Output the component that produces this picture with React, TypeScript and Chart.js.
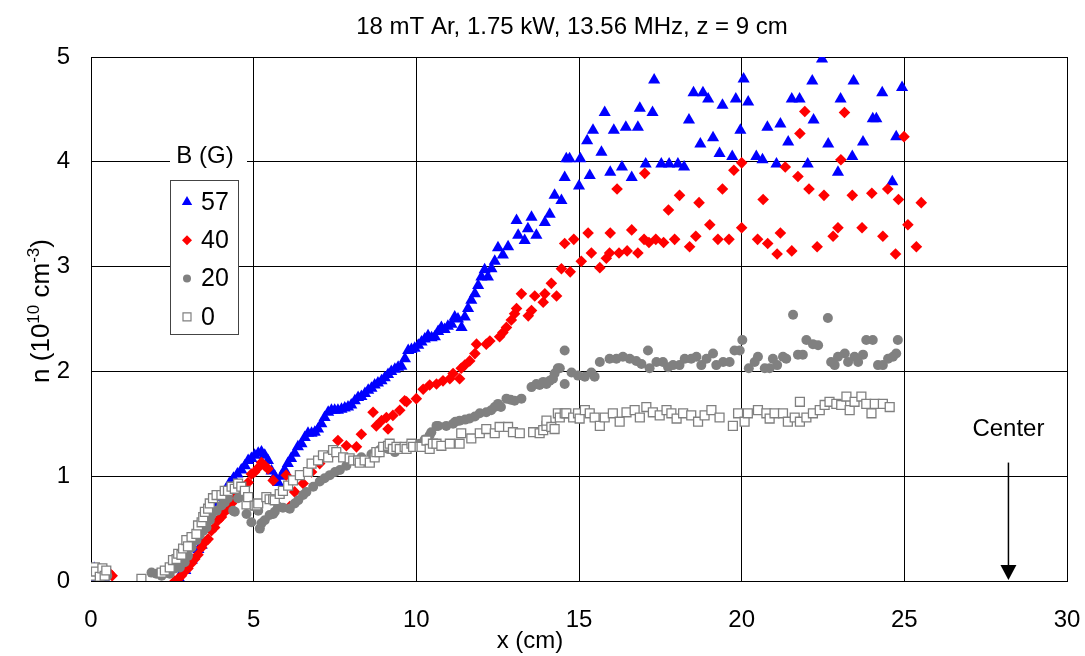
import React, { useEffect, useRef } from "react";
import { Chart, registerables } from "chart.js";

Chart.register(...registerables);

const FONT = '"Liberation Sans", Arial, Helvetica, sans-serif';
const TITLE = "18 mT Ar, 1.75 kW, 13.56 MHz, z = 9 cm";
const X_TICKS = [0, 5, 10, 15, 20, 25, 30];
const Y_TICKS = [0, 1, 2, 3, 4, 5];
const LEGEND_TITLE = "B (G)";
const SERIES_LABELS = ["57", "40", "20", "0"];
const CENTER_X = 28.2;

// B = 57 G (blue triangles): [x (cm), n (1e10 cm^-3)]
const b57: number[][] = [
  [0.06, 0.0], [0.1, 0.12], [0.15, 0.0], [0.3, 0.0], [0.45, 0.0],
  [2.7, 0.03], [2.9, 0.1], [3.1, 0.2], [3.3, 0.3], [3.4, 0.34], [3.55, 0.5], [3.7, 0.64], [3.85, 0.72],
  [4.0, 0.8], [4.15, 0.87], [4.25, 0.93], [4.38, 0.98], [4.5, 1.02], [4.62, 1.06], [4.73, 1.1], [4.83, 1.15],
  [4.93, 1.17], [5.03, 1.2], [5.14, 1.22], [5.24, 1.23], [5.34, 1.2], [5.44, 1.15], [5.55, 1.05], [5.65, 1.0],
  [5.75, 0.94], [5.85, 1.0], [5.95, 1.06], [6.05, 1.12], [6.15, 1.17], [6.26, 1.22], [6.36, 1.28], [6.47, 1.31],
  [6.57, 1.37], [6.67, 1.41], [6.78, 1.41], [6.88, 1.42], [6.98, 1.45], [7.08, 1.5], [7.18, 1.56], [7.29, 1.61],
  [7.39, 1.63], [7.49, 1.63], [7.59, 1.63], [7.7, 1.64], [7.8, 1.65], [7.9, 1.66], [8.0, 1.68], [8.11, 1.72],
  [8.21, 1.75], [8.31, 1.76], [8.42, 1.79], [8.52, 1.82], [8.62, 1.84], [8.72, 1.87], [8.82, 1.89], [8.93, 1.91],
  [9.03, 1.94], [9.13, 1.97], [9.23, 2.0], [9.34, 2.02], [9.44, 2.04], [9.54, 2.05], [9.65, 2.12], [9.75, 2.2],
  [9.85, 2.21], [9.95, 2.22], [10.06, 2.25], [10.16, 2.28], [10.26, 2.31], [10.36, 2.34], [10.47, 2.32],
  [10.57, 2.33], [10.67, 2.38], [10.77, 2.42], [10.87, 2.4], [10.97, 2.43], [11.08, 2.45], [11.18, 2.52],
  [11.28, 2.5], [11.39, 2.42], [11.49, 2.52], [11.59, 2.6], [11.69, 2.68], [11.8, 2.74], [11.9, 2.82], [12.0, 2.9],
  [12.1, 2.97], [12.2, 2.9], [12.31, 2.98], [12.41, 3.05], [12.51, 3.18], [12.66, 3.11], [12.82, 3.19],
  [13.08, 3.44], [13.13, 3.3], [13.33, 3.25], [13.43, 3.36], [13.54, 3.47], [13.69, 3.3], [13.95, 3.42],
  [14.1, 3.5], [14.25, 3.68], [14.46, 3.63], [14.56, 3.85], [14.61, 4.03], [14.71, 4.03], [15.0, 3.77],
  [15.04, 4.03], [15.25, 4.2], [15.33, 3.87], [15.43, 4.3], [15.69, 4.09], [15.79, 4.47], [15.96, 3.9],
  [16.07, 4.3], [16.32, 3.95], [16.44, 4.33], [16.62, 3.85], [16.81, 4.33], [16.87, 4.51], [17.05, 3.98],
  [17.26, 4.47], [17.31, 4.78], [17.53, 3.98], [17.77, 3.98], [18.04, 3.98], [18.23, 3.95], [18.38, 4.4],
  [18.52, 4.66], [18.73, 4.17], [18.81, 4.66], [18.97, 4.6], [19.12, 4.23], [19.32, 4.08], [19.41, 4.54],
  [19.71, 4.05], [19.82, 4.6], [19.96, 4.3], [20.06, 4.79], [20.2, 4.57], [20.45, 4.05], [20.64, 4.02],
  [20.79, 4.33], [21.07, 3.98], [21.19, 4.36], [21.43, 4.19], [21.54, 4.6], [21.78, 4.6], [22.03, 3.98],
  [22.17, 4.77], [22.21, 4.4], [22.47, 4.98], [22.66, 4.17], [22.96, 3.9], [23.04, 4.6], [23.4, 4.05],
  [23.44, 4.77], [23.73, 4.19], [24.03, 4.41], [24.14, 4.41], [24.32, 4.66], [24.63, 3.81], [24.75, 4.24],
  [24.93, 4.71],
];

// B = 40 G (red diamonds)
const b40: number[][] = [
  [0.55, 0.08], [0.65, 0.05],
  [2.58, 0.0], [2.68, 0.02], [2.78, 0.05], [2.88, 0.09], [2.98, 0.12], [3.09, 0.17], [3.19, 0.21], [3.29, 0.25],
  [3.4, 0.32], [3.5, 0.37], [3.6, 0.4], [3.7, 0.48], [3.8, 0.51], [3.91, 0.58], [4.01, 0.61], [4.11, 0.66],
  [4.21, 0.69], [4.32, 0.74], [4.42, 0.79], [4.52, 0.83], [4.62, 0.87], [4.73, 0.9], [4.83, 0.94], [4.93, 1.02],
  [5.03, 1.04], [5.14, 1.08], [5.24, 1.13], [5.34, 1.1], [5.44, 1.07], [5.6, 0.96], [6.0, 1.01], [6.11, 0.71],
  [6.26, 0.85], [6.52, 0.93], [6.78, 1.04], [7.03, 1.12], [7.34, 1.2], [7.59, 1.34], [7.85, 1.29], [8.16, 1.28],
  [8.31, 1.4], [8.67, 1.61], [8.77, 1.48], [8.93, 1.53], [9.08, 1.56], [9.13, 1.45], [9.28, 1.58], [9.49, 1.63],
  [9.64, 1.72], [9.7, 1.71], [10.0, 1.74], [10.21, 1.83], [10.41, 1.87], [10.62, 1.88], [10.82, 1.91],
  [11.03, 1.93], [11.13, 1.98], [11.33, 1.93], [11.38, 2.03], [11.49, 2.06], [11.64, 2.1], [11.8, 2.17],
  [11.85, 2.26], [12.15, 2.26], [12.26, 2.29], [12.56, 2.33], [12.66, 2.37], [12.77, 2.42], [12.92, 2.49],
  [13.02, 2.55], [13.08, 2.6], [13.23, 2.74], [13.44, 2.53], [13.54, 2.58], [13.64, 2.72], [13.9, 2.66],
  [13.95, 2.74], [14.15, 2.84], [14.31, 2.72], [14.46, 2.98], [14.56, 3.22], [14.73, 2.95], [14.84, 3.26],
  [15.07, 3.05], [15.28, 3.32], [15.38, 3.13], [15.64, 2.99], [15.84, 3.08], [15.94, 3.13], [15.96, 3.32],
  [16.17, 3.74], [16.23, 3.13], [16.48, 3.15], [16.62, 3.35], [16.81, 3.13], [17.0, 3.26], [17.02, 3.89],
  [17.15, 3.23], [17.36, 3.26], [17.6, 3.23], [17.75, 3.54], [17.94, 3.26], [18.09, 3.68], [18.4, 3.19],
  [18.59, 3.29], [18.69, 3.61], [19.02, 3.4], [19.27, 3.26], [19.41, 3.74], [19.61, 3.26], [19.76, 3.92],
  [20.0, 3.99], [20.0, 3.37], [20.49, 3.26], [20.66, 3.64], [20.8, 3.22], [21.09, 3.12], [21.19, 3.32],
  [21.34, 3.95], [21.54, 3.15], [21.73, 3.86], [21.79, 4.27], [21.94, 4.48], [22.07, 3.74], [22.32, 3.19],
  [22.53, 3.68], [22.81, 3.29], [22.96, 3.37], [23.05, 4.02], [23.16, 4.47], [23.4, 3.68], [23.7, 3.37],
  [24.0, 3.7], [24.34, 3.29], [24.49, 3.74], [24.73, 3.12], [24.82, 3.64], [24.99, 4.24], [25.11, 3.4],
  [25.37, 3.19], [25.52, 3.61],
];

// B = 20 G (gray circles)
const b20: number[][] = [
  [0.06, 0.1], [0.15, 0.05], [0.25, 0.12], [0.35, 0.08], [0.45, 0.1], [0.5, 0.05],
  [1.86, 0.08], [2.01, 0.07], [2.17, 0.05], [2.27, 0.08], [2.42, 0.07], [2.58, 0.12], [2.73, 0.13], [2.88, 0.18],
  [2.98, 0.24], [3.09, 0.32], [3.24, 0.39], [3.34, 0.44], [3.45, 0.48], [3.55, 0.51], [3.65, 0.58], [3.7, 0.63],
  [3.86, 0.67], [4.01, 0.72], [4.11, 0.75], [4.21, 0.79], [4.37, 0.67], [4.42, 0.66], [4.52, 0.79], [4.67, 0.8],
  [4.78, 0.64], [4.83, 0.75], [4.93, 0.56], [5.14, 0.67], [5.19, 0.5], [5.24, 0.55], [5.34, 0.58], [5.49, 0.63],
  [5.6, 0.64], [5.65, 0.66], [5.75, 0.71], [5.9, 0.7], [6.11, 0.69], [6.26, 0.74], [6.37, 0.77], [6.52, 0.82],
  [6.62, 0.85], [6.83, 0.9], [7.03, 0.95], [7.18, 0.98], [7.34, 1.01], [7.5, 1.04], [7.65, 1.06], [7.85, 1.1],
  [8.06, 1.15], [8.31, 1.18], [8.62, 1.21], [8.87, 1.25], [9.13, 1.26], [9.34, 1.23], [9.5, 1.26], [9.7, 1.28],
  [9.9, 1.29], [10.1, 1.31], [10.26, 1.35], [10.41, 1.39], [10.46, 1.42], [10.62, 1.48], [10.67, 1.48],
  [10.92, 1.48], [11.13, 1.5], [11.2, 1.52], [11.33, 1.53], [11.5, 1.54], [11.64, 1.55], [11.8, 1.57],
  [11.95, 1.6], [12.15, 1.61], [12.3, 1.63], [12.41, 1.66], [12.51, 1.69], [12.6, 1.66], [12.77, 1.74],
  [12.9, 1.73], [13.02, 1.72], [13.23, 1.74], [13.54, 1.85], [13.69, 1.88], [13.79, 1.87], [13.9, 1.9],
  [14.0, 1.88], [14.1, 1.91], [14.2, 1.93], [14.25, 1.98], [14.35, 2.03], [14.41, 2.03], [14.56, 2.2],
  [14.56, 1.88], [14.77, 1.99], [14.97, 1.96], [15.18, 1.95], [15.38, 1.99], [15.48, 1.95], [15.64, 2.09],
  [15.94, 2.12], [16.15, 2.12], [16.35, 2.14], [16.56, 2.12], [16.76, 2.1], [16.92, 2.07], [17.12, 2.2],
  [17.17, 2.03], [17.38, 2.09], [17.58, 2.09], [17.74, 2.04], [17.89, 2.06], [18.09, 2.06], [18.25, 2.12],
  [18.45, 2.12], [18.61, 2.14], [18.76, 2.06], [18.92, 2.12], [19.12, 2.17], [19.22, 2.06], [19.43, 2.09],
  [19.63, 2.09], [19.78, 2.2], [19.94, 2.2], [20.02, 2.3], [20.22, 2.03], [20.4, 2.09], [20.5, 2.14],
  [20.71, 2.03], [20.86, 2.03], [20.96, 2.12], [21.09, 2.06], [21.27, 2.14], [21.37, 2.12], [21.58, 2.54],
  [21.73, 2.16], [21.88, 2.16], [21.99, 2.3], [22.19, 2.26], [22.35, 2.25], [22.65, 2.51], [22.75, 2.09],
  [22.86, 2.06], [22.96, 2.14], [23.17, 2.17], [23.27, 2.09], [23.47, 2.14], [23.58, 2.09], [23.73, 2.16],
  [23.83, 2.3], [24.03, 2.3], [24.19, 2.06], [24.34, 2.06], [24.5, 2.12], [24.65, 2.14], [24.75, 2.17],
  [24.8, 2.3],
];

// B = 0 G (open squares)
const b0: number[][] = [
  [0.06, 0.05], [0.12, 0.13], [0.15, 0.09], [0.27, 0.04], [0.35, 0.12], [0.42, 0.05], [0.47, 0.1],
  [1.55, 0.02],
  [2.17, 0.08], [2.27, 0.1], [2.42, 0.13], [2.52, 0.2], [2.63, 0.21], [2.68, 0.26], [2.78, 0.25], [2.83, 0.31],
  [2.93, 0.39], [2.98, 0.33], [3.09, 0.42], [3.24, 0.45], [3.29, 0.53], [3.4, 0.56], [3.45, 0.61], [3.5, 0.66],
  [3.6, 0.69], [3.65, 0.74], [3.75, 0.79], [3.86, 0.82], [4.01, 0.82], [4.11, 0.86], [4.21, 0.86], [4.32, 0.9],
  [4.42, 0.88], [4.52, 0.93], [4.62, 0.9], [4.73, 0.86], [4.78, 0.73], [4.83, 0.8], [5.03, 0.72], [5.09, 0.72],
  [5.14, 0.74], [5.39, 0.8], [5.49, 0.78], [5.6, 0.78], [5.65, 0.77], [5.8, 0.83], [5.9, 0.86], [6.06, 0.91],
  [6.21, 0.96], [6.42, 1.01], [6.67, 1.04], [6.78, 1.12], [6.98, 1.15], [7.13, 1.2], [7.29, 1.18], [7.44, 1.25],
  [7.54, 1.23], [7.75, 1.18], [7.95, 1.17], [8.06, 1.15], [8.21, 1.15], [8.26, 1.13], [8.41, 1.15], [8.57, 1.13],
  [8.72, 1.18], [8.77, 1.23], [8.87, 1.23], [8.98, 1.28], [9.13, 1.29], [9.18, 1.31], [9.28, 1.26], [9.39, 1.28],
  [9.49, 1.26], [9.64, 1.28], [9.7, 1.26], [9.85, 1.31], [9.9, 1.28], [10.1, 1.28], [10.16, 1.28], [10.31, 1.34],
  [10.41, 1.26], [10.51, 1.31], [10.62, 1.31], [10.77, 1.29], [11.03, 1.31], [11.33, 1.31], [11.38, 1.41],
  [11.69, 1.36], [11.95, 1.41], [12.15, 1.45], [12.41, 1.41], [12.56, 1.47], [12.82, 1.47], [12.97, 1.42],
  [13.18, 1.41], [13.59, 1.42], [13.79, 1.41], [13.9, 1.44], [14.0, 1.48], [14.0, 1.53], [14.15, 1.47],
  [14.25, 1.45], [14.35, 1.6], [14.41, 1.56], [14.56, 1.6], [14.61, 1.6], [14.82, 1.56], [14.97, 1.6],
  [15.02, 1.55], [15.18, 1.63], [15.33, 1.6], [15.48, 1.56], [15.64, 1.48], [15.79, 1.56], [16.04, 1.6],
  [16.25, 1.52], [16.46, 1.61], [16.71, 1.63], [16.87, 1.56], [17.07, 1.66], [17.27, 1.61], [17.48, 1.58],
  [17.69, 1.63], [17.84, 1.6], [18.0, 1.55], [18.2, 1.6], [18.45, 1.58], [18.66, 1.52], [18.86, 1.58],
  [19.07, 1.63], [19.32, 1.56], [19.73, 1.48], [19.89, 1.6], [20.09, 1.52], [20.19, 1.6], [20.5, 1.63],
  [20.76, 1.6], [20.86, 1.55], [21.01, 1.6], [21.27, 1.6], [21.42, 1.52], [21.63, 1.56], [21.79, 1.71],
  [21.79, 1.52], [21.99, 1.56], [22.19, 1.6], [22.4, 1.63], [22.55, 1.68], [22.7, 1.71], [22.91, 1.69],
  [23.06, 1.68], [23.22, 1.76], [23.32, 1.63], [23.47, 1.71], [23.68, 1.76], [23.83, 1.69], [23.99, 1.6],
  [24.09, 1.69], [24.34, 1.69], [24.55, 1.66],
];

const BLUE = "#0000FF";
const RED = "#FF0000";
const GRAY = "#808080";

const toPts = (arr: number[][]) => arr.map(([x, y]) => ({ x, y }));

function drawMarker(ctx: CanvasRenderingContext2D, kind: string, x: number, y: number, r: number) {
  ctx.beginPath();
  if (kind === "triangle") {
    ctx.moveTo(x, y - r);
    ctx.lineTo(x + r * 0.866, y + r * 0.5);
    ctx.lineTo(x - r * 0.866, y + r * 0.5);
    ctx.closePath();
    ctx.fillStyle = BLUE;
    ctx.fill();
  } else if (kind === "diamond") {
    ctx.moveTo(x, y - r);
    ctx.lineTo(x + r, y);
    ctx.lineTo(x, y + r);
    ctx.lineTo(x - r, y);
    ctx.closePath();
    ctx.fillStyle = RED;
    ctx.fill();
  } else if (kind === "circle") {
    ctx.arc(x, y, r, 0, Math.PI * 2);
    ctx.fillStyle = GRAY;
    ctx.fill();
  } else {
    ctx.rect(x - r, y - r, 2 * r, 2 * r);
    ctx.fillStyle = "#fff";
    ctx.fill();
    ctx.strokeStyle = GRAY;
    ctx.lineWidth = 1.2;
    ctx.stroke();
  }
}

const overlayPlugin = {
  id: "overlay",
  afterDraw(chart: any) {
    const { ctx, chartArea: a, scales } = chart;
    const xs = scales.x;
    const ys = scales.y;
    ctx.save();
    ctx.fillStyle = "#000";
    ctx.textAlign = "center";
    ctx.textBaseline = "middle";

    // Title
    ctx.font = `24px ${FONT}`;
    ctx.fillText(TITLE, 572, 27);

    // X axis title
    ctx.font = `24px ${FONT}`;
    ctx.fillText("x (cm)", 530, 641);

    // Y axis title with superscripts
    ctx.save();
    ctx.translate(40, (a.top + a.bottom) / 2 - 8);
    ctx.rotate(-Math.PI / 2);
    const parts: [string, boolean][] = [["n (10", false], ["10", true], [" cm", false], ["-3", true], [")", false]];
    const big = `26px ${FONT}`;
    const small = `17px ${FONT}`;
    let total = 0;
    for (const [t, s] of parts) {
      ctx.font = s ? small : big;
      total += ctx.measureText(t).width;
    }
    let cx = -total / 2;
    ctx.textAlign = "left";
    ctx.textBaseline = "alphabetic";
    for (const [t, s] of parts) {
      ctx.font = s ? small : big;
      ctx.fillText(t, cx, s ? -1 : 9);
      cx += ctx.measureText(t).width;
    }
    ctx.restore();

    // Legend
    const lx0 = a.left + 79;
    const lx1 = a.left + 147;
    const ly0 = 180;
    const ly1 = 334;
    ctx.fillStyle = "#fff";
    ctx.fillRect(a.left + 79, 143, 77, 26);
    ctx.fillRect(lx0, ly0, lx1 - lx0, ly1 - ly0);
    ctx.strokeStyle = "#444";
    ctx.lineWidth = 1;
    ctx.strokeRect(lx0 + 0.5, ly0 + 0.5, lx1 - lx0, ly1 - ly0);
    ctx.fillStyle = "#000";
    ctx.font = `24px ${FONT}`;
    ctx.textAlign = "center";
    ctx.textBaseline = "middle";
    ctx.fillText(LEGEND_TITLE, a.left + 114, 156);
    const kinds = ["triangle", "diamond", "circle", "square"];
    const sizes = [6, 5, 4, 4];
    SERIES_LABELS.forEach((lab, i) => {
      const yy = 202 + i * 38.3;
      drawMarker(ctx, kinds[i], a.left + 96, yy, sizes[i]);
      ctx.fillStyle = "#000";
      ctx.textAlign = "left";
      ctx.font = `25px ${FONT}`;
      ctx.fillText(lab, a.left + 110, yy + 1);
    });

    // Center annotation
    const px = xs.getPixelForValue(CENTER_X);
    ctx.fillStyle = "#000";
    ctx.textAlign = "center";
    ctx.font = `24px ${FONT}`;
    ctx.fillText("Center", px, ys.getPixelForValue(1.45));
    const top = ys.getPixelForValue(1.13);
    const bot = ys.getPixelForValue(0);
    ctx.strokeStyle = "#000";
    ctx.lineWidth = 1.5;
    ctx.beginPath();
    ctx.moveTo(px, top);
    ctx.lineTo(px, bot - 14);
    ctx.stroke();
    ctx.beginPath();
    ctx.moveTo(px - 8, bot - 16);
    ctx.lineTo(px + 8, bot - 16);
    ctx.lineTo(px, bot - 1);
    ctx.closePath();
    ctx.fill();
    ctx.restore();
  },
};

export default function App() {
  const ref = useRef<HTMLCanvasElement | null>(null);
  useEffect(() => {
    if (!ref.current) return;
    const tickFont = { family: FONT, size: 24 };
    const chart = new Chart(ref.current, {
      type: "scatter",
      data: {
        datasets: [
          {
            label: SERIES_LABELS[3],
            data: toPts(b0),
            pointStyle: "rect",
            pointRadius: 6.3,
            backgroundColor: "#fff",
            borderColor: GRAY,
            borderWidth: 1.3,
          },
          {
            label: SERIES_LABELS[2],
            data: toPts(b20),
            pointStyle: "circle",
            pointRadius: 5,
            backgroundColor: GRAY,
            borderColor: GRAY,
            borderWidth: 0,
          },
          {
            label: SERIES_LABELS[1],
            data: toPts(b40),
            pointStyle: "rectRot",
            pointRadius: 5.8,
            backgroundColor: RED,
            borderColor: RED,
            borderWidth: 0,
          },
          {
            label: SERIES_LABELS[0],
            data: toPts(b57),
            pointStyle: "triangle",
            pointRadius: 7,
            backgroundColor: BLUE,
            borderColor: BLUE,
            borderWidth: 0,
          },
        ],
      },
      options: {
        animation: false,
        responsive: true,
        maintainAspectRatio: false,
        layout: { padding: { top: 57, right: 18, left: 0, bottom: 0 } },
        plugins: {
          legend: { display: false },
          title: { display: false },
          tooltip: { enabled: false },
        },
        scales: {
          x: {
            type: "linear",
            min: 0,
            max: 30,
            afterBuildTicks: (s: any) => {
              s.ticks = X_TICKS.map((v) => ({ value: v }));
            },
            afterFit: (s: any) => {
              s.height = 75;
              s.paddingLeft = 0;
              s.paddingRight = 0;
            },
            ticks: { font: tickFont, color: "#000", padding: 25, maxRotation: 0, autoSkip: false },
            grid: { color: "#000", lineWidth: 1, drawTicks: false },
            border: { display: true, color: "#000", width: 1 },
          },
          y: {
            type: "linear",
            min: 0,
            max: 5,
            afterBuildTicks: (s: any) => {
              s.ticks = Y_TICKS.map((v) => ({ value: v }));
            },
            afterFit: (s: any) => {
              s.width = 91;
              s.paddingTop = 0;
              s.paddingBottom = 0;
            },
            ticks: { font: tickFont, color: "#000", padding: 21, autoSkip: false },
            grid: { color: "#000", lineWidth: 1, drawTicks: false },
            border: { display: true, color: "#000", width: 1 },
          },
        },
      },
      plugins: [overlayPlugin],
    });
    return () => chart.destroy();
  }, []);

  return (
    <div style={{ position: "fixed", left: 0, top: 0, width: 1085, height: 656, background: "#fff" }}>
      <canvas ref={ref} />
    </div>
  );
}
